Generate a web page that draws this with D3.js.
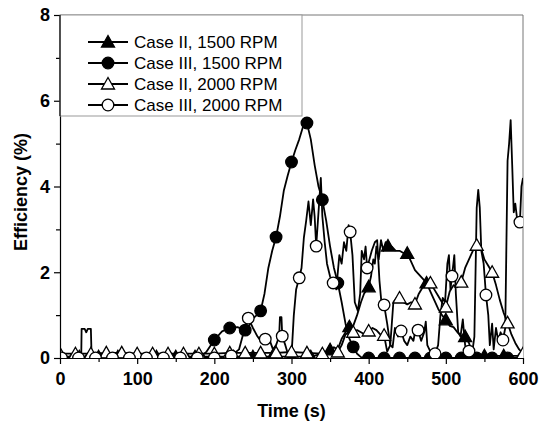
<!DOCTYPE html>
<html><head><meta charset="utf-8">
<script src="https://cdn.jsdelivr.net/npm/d3@7"></script>
<style>body{margin:0;background:#fff}svg{display:block}</style>
</head><body>
<svg id="c" width="546" height="421"></svg>
<script>
// ---- data ----
const xTicks = [0,100,200,300,400,500,600];
const yTicks = [0,2,4,6,8];
const seriesNames = ["Case II, 1500 RPM","Case III, 1500 RPM","Case II, 2000 RPM","Case III, 2000 RPM"];

// Case II, 1500 RPM (filled triangles)
const c2_1500_t = [0,25,50,75,100,125,150,175,200,225,250,275,300,325,340,350,355,360,365,370,375,380,385,390,394,400,403,406,408,410,413,416,419,422,425,430,435,440,445,450,455,460,465,470,475,480,485,490,495,500,505,510,515,520,525,530,535,540,550,575,600];
const c2_1500_v = [0.03,0.03,0.03,0.03,0.03,0.03,0.03,0.03,0.03,0.03,0.03,0.03,0.03,0.03,0.1,0.19,0.25,0.2,0.45,0.6,0.73,0.75,1.0,1.3,1.5,1.66,1.9,2.3,2.2,2.6,2.3,2.75,2.5,2.7,2.61,2.6,2.5,2.5,2.45,2.44,2.25,2.05,1.95,1.85,1.75,1.55,1.35,1.15,1.0,0.89,0.75,0.72,0.6,0.52,0.5,0.35,0.1,0.05,0.05,0.05,0.05];
const c2_1500_marks = [0,25,50,75,100,125,150,175,200,225,250,275,300,325,350,375,400,425,450,475,500,525,550,575,600];

// Case III, 1500 RPM (filled circles)
const c3_1500_t = [0,20,40,60,80,100,120,140,160,180,190,200,210,220,230,240,245,250,255,260,265,270,275,280,285,290,295,300,305,310,315,320,325,330,335,340,345,350,355,360,365,370,375,380,385,390,400,420,440,460,480,500,520,540,560,580,600];
const c3_1500_v = [0,0,0,0,0,0,0,0,0,0,0.15,0.42,0.62,0.7,0.72,0.65,0.75,0.92,1.0,1.1,1.5,2.1,2.5,2.82,3.3,3.9,4.25,4.57,4.85,5.1,5.4,5.48,5.1,4.5,4.0,3.69,3.2,2.6,2.1,1.75,1.3,0.8,0.45,0.26,0.1,0.02,0,0,0,0,0,0,0,0,0,0,0];
const c3_1500_marks = [0,20,40,60,80,100,120,140,160,180,200,220,240,260,280,300,320,340,360,380,400,420,440,460,480,500,520,540,560,580,600];

// Case II, 2000 RPM (open triangles)
const c2_2000_t = [0,20,40,60,80,100,120,140,160,180,200,220,240,260,280,300,320,340,350,360,365,370,375,380,385,390,395,400,405,410,415,420,424,428,432,436,440,445,450,455,460,465,470,475,480,485,490,495,500,505,510,515,520,525,530,535,540,545,550,555,560,565,570,575,580,585,590,595,600];
const c2_2000_v = [0.1,0.1,0.1,0.12,0.12,0.1,0.1,0.1,0.1,0.1,0.1,0.12,0.12,0.12,0.12,0.14,0.12,0.1,0.1,0.14,0.3,0.55,0.6,0.6,0.65,0.6,0.55,0.63,0.7,0.65,0.55,0.53,0.15,0.3,1.3,1.4,1.4,1.3,1.25,1.3,1.26,1.5,1.65,1.8,1.75,1.6,1.45,1.3,1.19,1.55,1.7,1.65,1.77,2.1,2.3,2.5,2.63,2.6,2.3,2.15,2.0,1.7,1.35,1.05,0.82,0.55,0.35,0.2,0.1];
const c2_2000_marks = [0,20,40,60,80,100,120,140,160,180,200,220,240,260,280,300,320,340,360,380,400,420,440,460,480,500,520,540,560,580,600];

// Case III, 2000 RPM (open circles)
const c3_2000_t = [2,24,27.5,28,32,34,36,40,41,46,68,90,112,134,156,178,200,222,232,238,244,250,256,262,266,272,276,280,284,285,287,288,292,296,300,303,306,310,313,316,319,322,325,328,330,332,335,338,340,343,346,350,354,358,362,365,368,371,374,376,379,382,386,389,391,394,396,398,401,404,408,411,414,417,420,424,428,431,434,438,442,446,450,454,458,461,464,468,472,474,476,480,486,490,493,496,499,502,504,506,508,511,513,516,519,522,525,528,530,534,537,540,542,544,546,549,552,555,557,560,562,565,568,571,574,577,580,582,584,586,588,590,592,596,598,600];
const c3_2000_v = [0,0,0,0.68,0.68,0.6,0.68,0.68,0,0,0,0,0,0,0,0,0,0.05,0.2,0.6,0.93,0.7,0.5,0.35,0.44,0.4,0.2,0.3,0.5,0.95,0.95,0.51,0.3,0.05,0.05,1.0,1.6,1.87,2.1,2.8,3.2,3.65,3.1,3.7,3.3,2.61,3.4,4.2,3.3,2.7,2.2,1.9,1.75,1.6,2.4,2.2,2.7,2.5,3.1,2.94,2.4,1.3,1.1,1.5,2.5,2.3,2.6,2.1,2.3,2.5,2.7,2.75,1.8,1.2,1.24,0.8,0.3,0.25,0.7,0.5,0.63,0.4,0.3,0.5,0.4,0.7,0.65,0.4,0.6,0.85,0.3,0.15,0.1,0.3,1.0,1.4,1.3,2.2,2.4,1.6,1.91,2.4,1.5,0.6,0.5,0.9,0.3,0.1,0.16,0.1,0.5,3.5,3.92,3.5,2.5,2.2,1.47,1.0,0.3,0.8,0.2,0.7,0.4,0.6,0.42,0.7,4.6,5.0,5.55,4.5,3.4,3.6,3.3,3.17,4.0,4.2];
const c3_2000_marks = [2,24,46,68,90,112,134,156,178,200,222,244,266,288,310,332,354,376,398,420,442,464,486,508,530,552,574,596];

// ---- chart ----
const svg = d3.select("#c");
const L = 60, R = 523, T = 15, B = 358;
const x = d3.scaleLinear().domain([0,600]).range([L,R]);
const y = d3.scaleLinear().domain([0,8]).range([B,T]);
const font = "'Liberation Sans', Arial, Helvetica, sans-serif";

svg.append("defs").append("clipPath").attr("id","clip")
  .append("rect").attr("x",L).attr("y",T).attr("width",R-L).attr("height",B-T);

// frame (top and right, grey)
svg.append("line").attr("x1",L).attr("x2",R).attr("y1",T).attr("y2",T).attr("stroke","#777").attr("stroke-width",1);
svg.append("line").attr("x1",R).attr("x2",R).attr("y1",T).attr("y2",B).attr("stroke","#777").attr("stroke-width",1);

const series = [
  {t:c2_1500_t, v:c2_1500_v, m:c2_1500_marks, shape:"tri", fill:"#000"},
  {t:c3_1500_t, v:c3_1500_v, m:c3_1500_marks, shape:"circ", fill:"#000"},
  {t:c2_2000_t, v:c2_2000_v, m:c2_2000_marks, shape:"tri", fill:"#fff"},
  {t:c3_2000_t, v:c3_2000_v, m:c3_2000_marks, shape:"circ", fill:"#fff"}
];

const line = d3.line().x(d=>x(d[0])).y(d=>y(d[1]));
const g = svg.append("g").attr("clip-path","url(#clip)");
const triPath = "M0,-6.5L6.5,5L-6.5,5Z";

function drawMarker(sel, shape, fill, cx, cy){
  if(shape==="circ"){
    sel.append("circle").attr("cx",cx).attr("cy",cy).attr("r",5.8)
      .attr("fill",fill).attr("stroke","#000").attr("stroke-width",1.3);
  } else {
    sel.append("path").attr("d",triPath).attr("transform",`translate(${cx},${cy})`)
      .attr("fill",fill).attr("stroke","#000").attr("stroke-width",1.3).attr("stroke-linejoin","miter");
  }
}

series.forEach(s=>{
  const pts = s.t.map((t,i)=>[t,s.v[i]]);
  g.append("path").attr("d",line(pts)).attr("fill","none").attr("stroke","#000").attr("stroke-width",1.8).attr("stroke-linejoin","round");
});
series.forEach(s=>{
  s.m.forEach(mt=>{
    const i = s.t.indexOf(mt);
    if(i>=0) drawMarker(g, s.shape, s.fill, x(mt), y(s.v[i]));
  });
});

// axes
const xAxis = d3.axisBottom(x).tickValues(xTicks).tickSize(6).tickSizeOuter(0).tickPadding(8);
const xMinor = d3.axisBottom(x).tickValues(d3.range(50,600,100)).tickSize(4).tickFormat("");
const yAxis = d3.axisLeft(y).tickValues(yTicks).tickSize(6).tickSizeOuter(0).tickPadding(4);
const yMinor = d3.axisLeft(y).tickValues([1,3,5,7]).tickSize(4).tickFormat("");

function styleAxis(a){
  a.select(".domain").attr("stroke","#000").attr("stroke-width",1.2);
  a.selectAll(".tick line").attr("stroke","#000").attr("stroke-width",1.2);
  a.selectAll("text").attr("font-family",font).attr("font-weight","bold").attr("font-size","18px").attr("fill","#000");
}
const gx = svg.append("g").attr("transform",`translate(0,${B})`).call(xAxis); styleAxis(gx);
const gxm = svg.append("g").attr("transform",`translate(0,${B})`).call(xMinor); styleAxis(gxm); gxm.select(".domain").remove();
const gy = svg.append("g").attr("transform",`translate(${L},0)`).call(yAxis); styleAxis(gy);
const gym = svg.append("g").attr("transform",`translate(${L},0)`).call(yMinor); styleAxis(gym); gym.select(".domain").remove();

// axis titles
svg.append("text").attr("x",(L+R)/2).attr("y",417).attr("text-anchor","middle")
  .attr("font-family",font).attr("font-weight","bold").attr("font-size","18px").text("Time (s)");
svg.append("text").attr("transform",`translate(27,192) rotate(-90)`).attr("text-anchor","middle")
  .attr("font-family",font).attr("font-weight","bold").attr("font-size","18px").text("Efficiency (%)");

// legend
const lg = svg.append("g");
lg.append("rect").attr("x",L).attr("y",T).attr("width",302-L).attr("height",116-T)
  .attr("fill","#fff").attr("stroke","#999").attr("stroke-width",1);
lg.append("line").attr("x1",L).attr("x2",L).attr("y1",T).attr("y2",116).attr("stroke","#000").attr("stroke-width",1.2);
const rowsY = [42,63,84,105];
series.forEach((s,i)=>{
  const yy = rowsY[i];
  lg.append("line").attr("x1",88).attr("x2",128).attr("y1",yy).attr("y2",yy).attr("stroke","#000").attr("stroke-width",1.8);
  drawMarker(lg, s.shape, s.fill, 108, yy);
  lg.append("text").attr("x",134).attr("y",yy+6).attr("font-family",font).attr("font-size","17px").attr("fill","#000").text(seriesNames[i]);
});
</script>
</body></html>
